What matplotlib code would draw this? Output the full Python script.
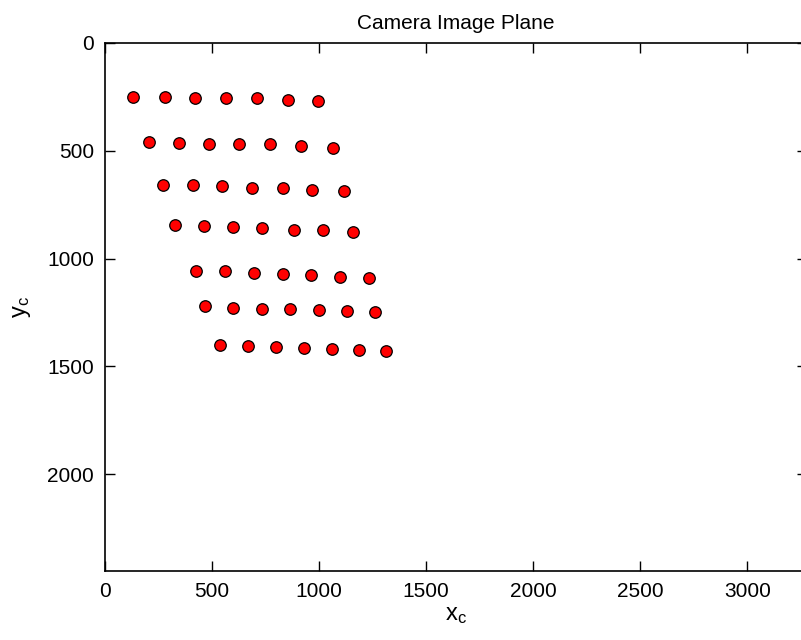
import matplotlib.pyplot as plt

plt.rcParams['font.family'] = ['Liberation Sans', 'DejaVu Sans']

# detected calibration corners, one list per grid row (pixels)
row_x = [
    [129, 279, 421, 565, 712, 855, 997],
    [207, 344, 487, 628, 772, 914, 1065],
    [271, 410, 548, 687, 830, 969, 1114],
    [326, 463, 598, 735, 883, 1020, 1157],
    [427, 562, 695, 830, 964, 1098, 1232],
    [467, 598, 732, 864, 999, 1131, 1262],
    [539, 668, 800, 930, 1058, 1186, 1314],
]
row_y = [
    [249, 249, 255, 255, 255, 265, 268],
    [460, 463, 468, 468, 469, 479, 487],
    [658, 661, 664, 671, 672, 683, 689],
    [844, 849, 855, 858, 869, 869, 875],
    [1056, 1059, 1066, 1072, 1077, 1084, 1089],
    [1222, 1228, 1233, 1235, 1239, 1245, 1250],
    [1400, 1407, 1411, 1414, 1419, 1423, 1428],
]

x_max = 3280
y_max = 2448

fig = plt.figure(figsize=(8.01, 6.4), dpi=100)
ax = fig.add_axes([0.131, 0.108, 0.877, 0.825])

for xs, ys in zip(row_x, row_y):
    ax.plot(xs, ys, 'o', color='red', markeredgecolor='black',
            markeredgewidth=0.9, markersize=8.3, linestyle='none')

ax.set_xlim(0, x_max)
ax.set_ylim(y_max, 0)
ax.set_xticks([0, 500, 1000, 1500, 2000, 2500, 3000])
ax.set_yticks([0, 500, 1000, 1500, 2000])

ax.tick_params(direction='in', length=7, width=1, labelsize=15,
               top=True, right=True, pad=8)
for s in ax.spines.values():
    s.set_linewidth(1.2)

ax.set_title('Camera Image Plane', fontsize=15, pad=10)
ax.set_xlabel('$\\mathregular{x_c}$', fontsize=17, labelpad=2)
ax.set_ylabel('$\\mathregular{y_c}$', fontsize=17, labelpad=10)

fig.savefig('out.png', dpi=100)
